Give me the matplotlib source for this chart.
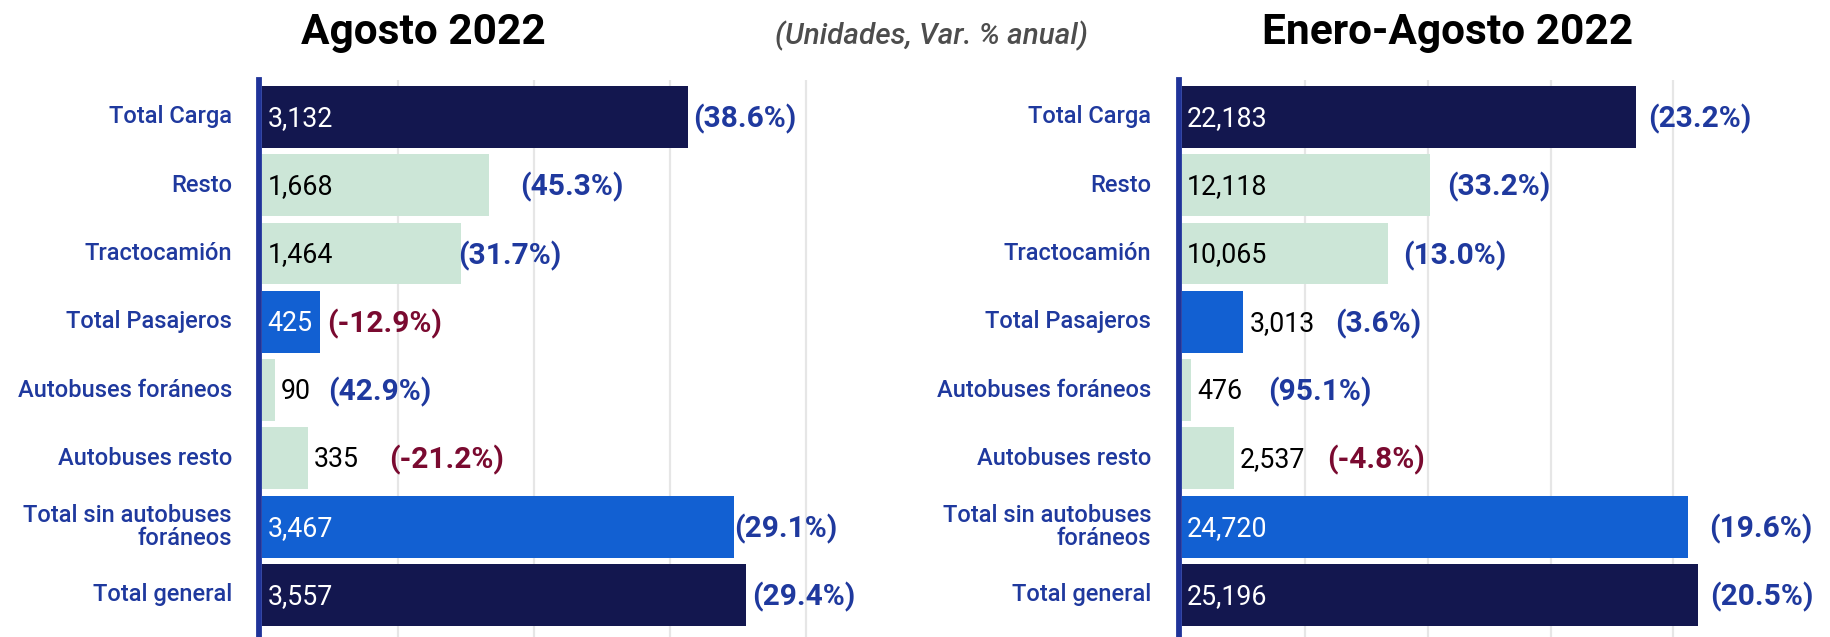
import matplotlib
matplotlib.use("Agg")
import matplotlib.pyplot as plt

# ---------------- data ----------------
categories = ["Total Carga", "Resto", "Tractocamión", "Total Pasajeros",
              "Autobuses foráneos", "Autobuses resto",
              "Total sin autobuses\nforáneos", "Total general"]
kinds = ["total", "sub", "sub", "group", "sub", "sub", "group", "total"]

ago_values = [3132, 1668, 1464, 425, 90, 335, 3467, 3557]
ago_var = [38.6, 45.3, 31.7, -12.9, 42.9, -21.2, 29.1, 29.4]

ene_values = [22183, 12118, 10065, 3013, 476, 2537, 24720, 25196]
ene_var = [23.2, 33.2, 13.0, 3.6, 95.1, -4.8, 19.6, 20.5]

title_left = "Agosto 2022"
title_right = "Enero-Agosto 2022"
subtitle = "(Unidades, Var. % anual)"

# ---------------- layout / style ----------------
W, H, DPI = 1831, 637, 100
NAVY = "#13174f"
GREEN = "#cce6d7"
BLUE = "#1260d2"
LBLUE = "#1f399e"
RED = "#7a0a30"
GRID = "#e6e6e6"
kind_color = {"total": NAVY, "sub": GREEN, "group": BLUE}

# value label inside the bar?
ago_inside = [True, True, True, True, False, False, True, True]
ene_inside = [True, True, True, False, False, False, True, True]
# gap (px) between bar end and the percentage label
ago_pct_gap = [5, 31, -3, 7, 54, 81, 0, 6]
ene_pct_gap = [12, 17, 15, 92, 77, 93, 21, 12]

plt.rcParams["font.family"] = ["Roboto", "DejaVu Sans"]

fig = plt.figure(figsize=(W / DPI, H / DPI), dpi=DPI)
fig.patch.set_facecolor("white")


def px2pt(px):
    return px * 72.0 / DPI


def make_panel(spine_px, zero_px, ppu, xmax, values, var, inside, gaps, ticks):
    xmin = -(zero_px - spine_px) / ppu
    right_px = zero_px + xmax * ppu
    top_px, bot_px = 80, 637
    ax = fig.add_axes([spine_px / W, 1 - bot_px / H,
                       (right_px - spine_px) / W, (bot_px - top_px) / H])
    ax.set_xlim(xmin, xmax)
    ax.set_ylim(7.615, -0.54)
    for s in ["top", "right", "bottom"]:
        ax.spines[s].set_visible(False)
    ax.spines["left"].set_color("#1f3399")
    ax.spines["left"].set_linewidth(px2pt(5.8))
    ax.spines["left"].set_zorder(5)
    ax.set_xticks(ticks)
    ax.tick_params(axis="x", length=0, labelbottom=False)
    ax.grid(axis="x", color=GRID, linewidth=px2pt(2.2))
    ax.set_axisbelow(True)
    ypos = list(range(len(categories)))
    ax.set_yticks(ypos)
    ax.set_yticklabels(categories, fontsize=17.0, color=LBLUE,
                       fontweight="medium", linespacing=1.0)
    ax.tick_params(axis="y", length=0, pad=px2pt(27.5))
    for lab in ax.get_yticklabels():
        lab.set_multialignment("right")
        lab.set_verticalalignment("center")
    colors = [kind_color[k] for k in kinds]
    ax.barh(ypos, values, height=0.905, color=colors, zorder=2)

    for i, (v, p) in enumerate(zip(values, var)):
        txt = f"{v:,}"
        if inside[i]:
            col = "black" if kinds[i] == "sub" else "white"
            ax.annotate(txt, (0, i), xytext=(px2pt(5), px2pt(-1.5)),
                        textcoords="offset points",
                        ha="left", va="center", fontsize=19.3, color=col, zorder=6)
        else:
            ax.annotate(txt, (v, i), xytext=(px2pt(6), px2pt(-1.5)),
                        textcoords="offset points",
                        ha="left", va="center", fontsize=19.3, color="black", zorder=6)
        pcol = RED if p < 0 else LBLUE
        ax.annotate(f"({p:.1f}%)", (v, i), xytext=(px2pt(gaps[i]), px2pt(-2)),
                    textcoords="offset points", ha="left", va="center",
                    fontsize=21.5, fontweight="bold", color=pcol,
                    annotation_clip=False, zorder=6)
    return ax


axL = make_panel(259.4, 262.3, 0.13595, 4300, ago_values, ago_var,
                 ago_inside, ago_pct_gap, [1000, 2000, 3000, 4000])
axR = make_panel(1178.8, 1181.7, 0.02049, 30000, ene_values, ene_var,
                 ene_inside, ene_pct_gap, [6000, 12000, 18000, 24000])

fig.text(423.5 / W, 1 - 44 / H, title_left, ha="center", va="baseline",
         fontsize=30.5, fontweight="bold", color="black")
fig.text(1448 / W, 1 - 44 / H, title_right, ha="center", va="baseline",
         fontsize=30.5, fontweight="bold", color="black")
fig.text(931 / W, 1 - 44 / H, subtitle, ha="center", va="baseline",
         fontsize=21.3, fontstyle="italic", fontweight="medium", color="#4d4d4d")

fig.savefig("out.png", dpi=DPI, facecolor="white")
